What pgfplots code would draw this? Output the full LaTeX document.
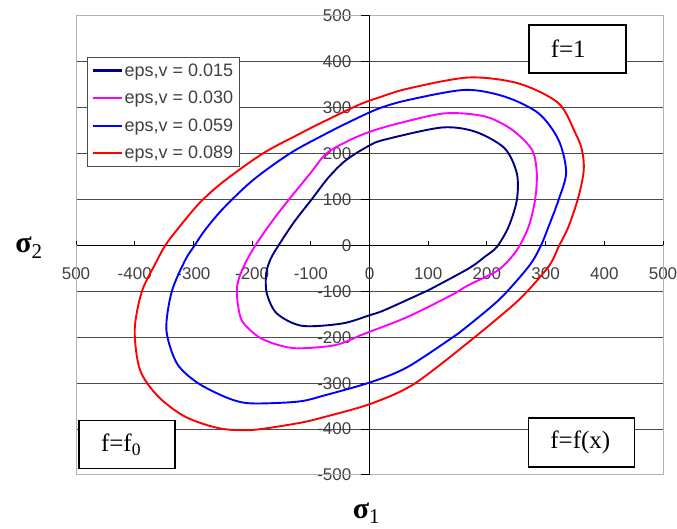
\documentclass[border=0pt]{standalone}
\usepackage{fontspec}
\setmainfont{Liberation Serif}
\setsansfont{Liberation Sans}
\usepackage{pgfplots}
\pgfplotsset{compat=1.18}
\definecolor{navyc}{HTML}{000080}
\definecolor{magc}{HTML}{FF00FF}
\definecolor{bluec}{HTML}{0000FF}
\definecolor{redc}{HTML}{FF0000}
\begin{document}
\begin{tikzpicture}[x=1pt,y=1pt]
\useasboundingbox (0,0) rectangle (677,529);
\begin{axis}[
 at={(76pt,54pt)}, anchor=south west,
 scale only axis, width=587pt, height=459pt,
 xmin=-500, xmax=500, ymin=-500, ymax=500,
 axis lines=middle, axis line style={-, black, line width=1pt},
 hide obscured x ticks=false, hide obscured y ticks=false,
 xtick={-500,-400,-300,-200,-100,0,100,200,300,400,500},
 xticklabels={500,-400,-300,-200,-100,0,100,200,300,400,500},
 ytick={-400,-300,-200,-100,0,100,200,300,400},
 yticklabels={-400,-300,-200,-100,0,100,200,300,400},
 extra y ticks={-500,500}, extra y tick labels={-500,500},
 extra y tick style={grid=none},
 ymajorgrids, grid style={black!70, line width=1pt},
 major tick length=0pt,
 ticklabel style={font=\sffamily\fontsize{17}{20}\selectfont, text=black!75},
 xticklabel style={anchor=north, inner sep=0pt, yshift=-22pt},
 yticklabel style={anchor=east, inner sep=0pt, xshift=-18pt},
 clip=false,
 legend style={at={(axis description cs:0.0187,0.9107)}, anchor=north west,
   draw=black!70, line width=1pt, font=\sffamily\fontsize{18}{21}\selectfont,
   inner sep=4pt, row sep=9.5pt},
 legend cell align=left,
 legend image code/.code={\draw[#1, line width=2.2pt] (0pt,0pt) -- (29pt,0pt);},
]
\draw[black!30, line width=1pt] (rel axis cs:0,0) rectangle (rel axis cs:1,1);
\pgfplotsinvokeforeach{-500,-400,-300,-200,-100,0,100,200,300,400,500}{
  \draw[black, line width=1pt] (axis cs:#1,0) -- ++(0pt,4pt);
  \draw[black, line width=1pt] (axis cs:0,#1) -- ++(-9pt,0pt);
}
\addplot[draw=navyc, line width=1.9pt, smooth] coordinates {
(101,-97) (27,-140) (0,-152) (-47,-170) (-115,-175) (-158,-148) (-175,-104)
(-176,-61) (-168,-28) (-152,6) (-128,52) (-100,98) (-70,148) (-40,186) (0,218)
(27,231) (123,257) (180,248) (230,212) (251,157) (251,99) (237,41) (217,-3)
(197,-24) (169,-50) (101,-97)};
\addlegendentry{\textcolor{black!75}{eps,v = 0.015}}
\addplot[draw=magc, line width=1.9pt, smooth] coordinates {
(146,-104) (66,-155) (-10,-193) (-58,-217) (-121,-224) (-155,-217) (-189,-199)
(-218,-162) (-226,-104) (-222,-70) (-209,-32) (-192,5) (-164,56) (-138,99)
(-101,157) (-73,201) (-33,230) (1,248) (49,266) (129,288) (197,281) (243,252)
(277,208) (285,157) (282,99) (271,41) (251,-10) (220,-53) (169,-86) (146,-104)};
\addlegendentry{\textcolor{black!75}{eps,v = 0.030}}
\addplot[draw=bluec, line width=1.9pt, smooth] coordinates {
(152,-191) (66,-264) (4,-297) (-75,-326) (-121,-340) (-201,-344) (-240,-333)
(-292,-300) (-328,-257) (-346,-184) (-337,-101) (-314,-32) (-298,0) (-280,34)
(-249,81) (-198,143) (-135,201) (-78,241) (-33,270) (15,298) (66,317) (163,339)
(231,324) (288,288) (322,230) (335,160) (322,99) (305,41) (291,-3) (271,-46)
(220,-119) (152,-191)};
\addlegendentry{\textcolor{black!75}{eps,v = 0.059}}
\addplot[draw=redc, line width=1.9pt, smooth] coordinates {
(180,-199) (78,-300) (4,-344) (-75,-373) (-121,-387) (-201,-402) (-257,-398)
(-314,-373) (-360,-329) (-391,-271) (-400,-184) (-388,-101) (-365,-40) (-348,0)
(-328,34) (-290,92) (-249,139) (-181,201) (-118,244) (-78,270) (-19,306)
(15,322) (66,342) (169,366) (254,353) (322,310) (351,244) (362,208) (365,164)
(356,106) (339,41) (322,-3) (305,-46) (254,-119) (180,-199)};
\addlegendentry{\textcolor{black!75}{eps,v = 0.089}}
\node[draw=black, line width=1.5pt, fill=white, minimum height=48pt, inner xsep=22pt,
  text width=53pt, align=left, font=\fontsize{25}{28}\selectfont] at (axis cs:354,428) {f=1};
\node[draw=black, line width=1.5pt, fill=white, minimum height=48pt, inner xsep=22pt,
  text width=52pt, align=left, font=\fontsize{25}{28}\selectfont] at (axis cs:-413,-434) {f=f\textsubscript{0}};
\node[draw=black, line width=1.5pt, fill=white, minimum height=49pt, inner xsep=22pt,
  text width=62pt, align=left, font=\fontsize{25}{28}\selectfont] at (axis cs:361,-429) {f=f(x)};
\node[font=\fontsize{30}{34}\selectfont, inner sep=0pt] at (axis cs:-580,-5) {\textbf{σ}\textsubscript{2}};
\node[font=\fontsize{30}{34}\selectfont, inner sep=0pt] at (axis cs:-5,-583) {\textbf{σ}\textsubscript{1}};
\end{axis}
\end{tikzpicture}
\end{document}
